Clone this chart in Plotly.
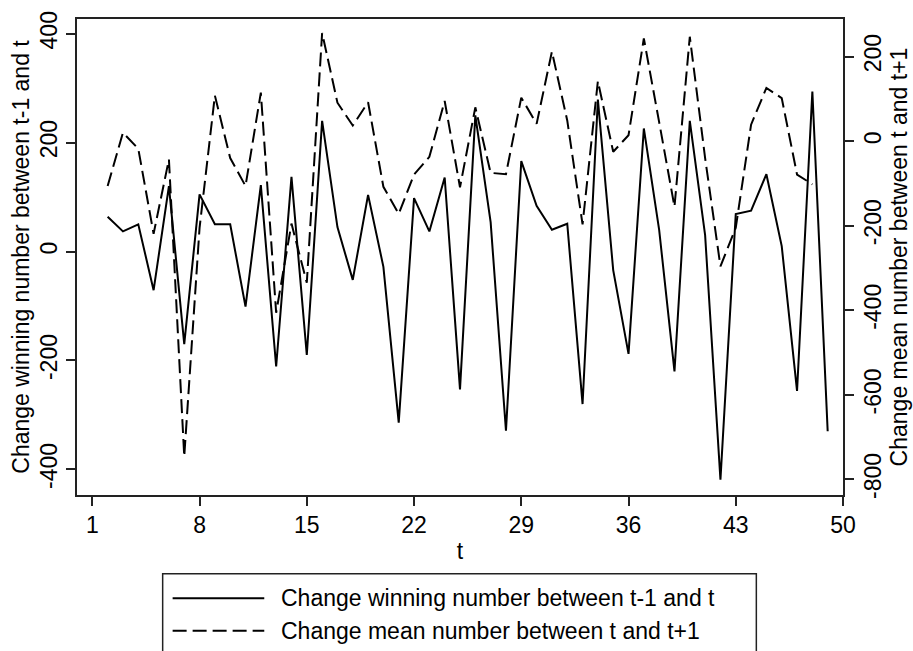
import plotly.graph_objects as go

# ---- data ----
t_win = list(range(2, 50))
change_winning = [64, 37, 50, -71, 120, -170, 105, 50, 50, -101,
                  122, -211, 137, -190, 240, 45, -52, 104, -28, -314,
                  98, 37, 136, -253, 250, 54, -329, 166, 84, 40,
                  51, -280, 279, -34, -188, 226, 40, -220, 240, 30,
                  -419, 69, 75, 142, 10, -256, 294, -330]

t_mean = list(range(2, 49))
change_mean = [-106, 20, -18, -219, -43, -746, -205, 108, -40, -106,
               115, -406, -195, -335, 256, 91, 37, 92, -108, -172,
               -79, -37, 95, -109, 80, -75, -78, 103, 41, 212,
               49, -197, 142, -25, 14, 243, 45, -155, 247, -40,
               -296, -205, 39, 126, 102, -79, -102]

x_ticks = [1, 8, 15, 22, 29, 36, 43, 50]
y1_ticks = [-400, -200, 0, 200, 400]
y2_ticks = [-800, -600, -400, -200, 0, 200]

name_win = "Change winning number between t-1 and t"
name_mean = "Change mean number between t and t+1"

FONT = "Liberation Sans, Arial, sans-serif"
FS = 23
W, H = 913, 651
L, R, T, B = 77, 67, 11, 156
pw, ph = W - L - R, H - T - B


def px_x(p):
    return (p - L) / pw


def px_y(p):
    return (H - B - p) / ph


fig = go.Figure()
fig.add_trace(go.Scatter(x=t_win, y=change_winning, mode="lines", name=name_win,
                         line=dict(color="black", width=2), yaxis="y", showlegend=False))
fig.add_trace(go.Scatter(x=t_mean, y=change_mean, mode="lines", name=name_mean,
                         line=dict(color="black", width=2, dash="14px,6px"), yaxis="y2",
                         showlegend=False))

axis_common = dict(showgrid=False, zeroline=False, showline=True, linecolor="#222",
                   linewidth=1.5, ticks="outside", ticklen=9, tickwidth=1.5, tickcolor="#222",
                   tickfont=dict(family=FONT, size=FS, color="black"))

fig.update_layout(
    width=W, height=H,
    margin=dict(l=L, r=R, t=T, b=B),
    paper_bgcolor="white", plot_bgcolor="white",
    font=dict(family=FONT, color="black"),
    xaxis=dict(range=[0, 50], tickvals=x_ticks, ticktext=[str(v) for v in x_ticks],
               mirror=True,
               title=dict(text="t", font=dict(family=FONT, size=FS), standoff=6),
               **axis_common),
    yaxis=dict(range=[-447, 427], tickvals=y1_ticks, ticktext=[str(v) for v in y1_ticks],
               tickangle=-90, mirror=True,
               title=dict(text=name_win, font=dict(family=FONT, size=FS), standoff=0),
               **axis_common),
    yaxis2=dict(range=[-837, 289], tickvals=y2_ticks, ticktext=[str(v) for v in y2_ticks],
                tickangle=-90, overlaying="y", side="right",
                title=dict(text=name_mean, font=dict(family=FONT, size=FS), standoff=0),
                **axis_common),
)

# ---- custom legend (box, line samples, labels) ----
box_l, box_r, box_t, box_b = 163, 759, 575, 700
fig.add_shape(type="rect", xref="paper", yref="paper",
              x0=px_x(box_l), x1=px_x(box_r), y0=px_y(box_b), y1=px_y(box_t),
              line=dict(color="#222", width=1.5), fillcolor="white", layer="above")
rows = [(600, "solid", name_win), (633, "14px,6px", name_mean)]
for yy, dash, label in rows:
    fig.add_shape(type="line", xref="paper", yref="paper",
                  x0=px_x(173), x1=px_x(265), y0=px_y(yy), y1=px_y(yy),
                  line=dict(color="black", width=2, dash=dash))
    fig.add_annotation(xref="paper", yref="paper", x=px_x(280), y=px_y(yy),
                       text=label, showarrow=False, xanchor="left", yanchor="middle",
                       font=dict(family=FONT, size=FS, color="black"))

fig.write_html("out.html")
